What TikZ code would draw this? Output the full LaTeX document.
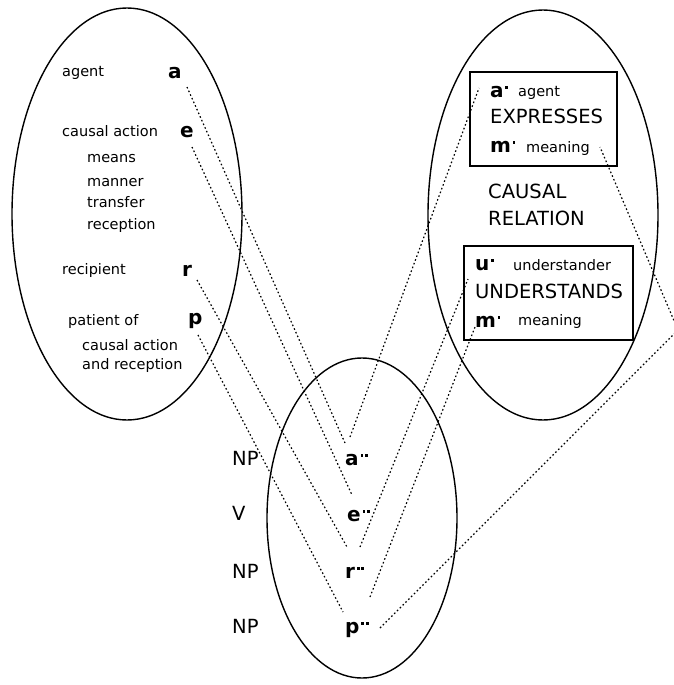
\documentclass[tikz,border=0pt]{standalone}
\usepackage{fontspec}
\setmainfont{DejaVu Sans}
\newcommand\pdot{\kern1.5pt\rule[8.5pt]{2.8pt}{2.8pt}}
\newcommand\ppdot{\kern1.8pt\rule[8.5pt]{2.8pt}{2.8pt}\kern1.8pt\rule[8.5pt]{2.8pt}{2.8pt}}
\tikzset{
  lbl/.style={font=\fontsize{14.5}{16}\selectfont, inner sep=0pt, anchor=base west},
  big/.style={font=\fontsize{19.5}{22}\selectfont, inner sep=0pt, anchor=base west},
  var/.style={font=\fontsize{20}{22}\selectfont\bfseries, inner sep=0pt, anchor=base west},
  link/.style={line width=1.2pt, dash pattern=on 1.6pt off 2.4pt},
  oval/.style={line width=1.4pt},
  frame/.style={line width=1.4pt}
}
\begin{document}
\begin{tikzpicture}[x=1pt,y=-1pt]
\useasboundingbox[fill=white] (0,0) rectangle (674,685);
% ellipses
\draw[oval] (127,214) ellipse [x radius=115pt, y radius=206pt];
\draw[oval] (543,215) ellipse [x radius=115pt, y radius=205pt];
\draw[oval] (362,518) ellipse [x radius=95pt, y radius=160pt];
% left ellipse texts
\node[lbl] (tagent) at (62,77) {agent};
\node[var] (va) at (168,78) {a};
\node[lbl] (tcausal) at (62,136) {causal action};
\node[var] (ve) at (180,137) {e};
\node[lbl] (tmeans) at (87,162) {means};
\node[lbl] (tmanner) at (87,186) {manner};
\node[lbl] (ttransfer) at (87,207) {transfer};
\node[lbl] (treception) at (87,229) {reception};
\node[lbl] (trecipient) at (62,274) {recipient};
\node[var] (vr) at (182,276) {r};
\node[lbl] (tpatient) at (68,325) {patient of};
\node[var] (vp) at (188,324) {p};
\node[lbl] (tcausaltwo) at (82,350) {causal action};
\node[lbl] (tandrec) at (82,369) {and reception};
% bottom ellipse texts
\node[big] (npone) at (232,465) {NP};
\node[var] (aa) at (345,465) {a\ppdot};
\node[big] (vone) at (232,520) {V};
\node[var] (ee) at (347,521) {e\ppdot};
\node[big] (nptwo) at (232,578) {NP};
\node[var] (rr) at (345,578) {r\ppdot};
\node[big] (npthree) at (232,633) {NP};
\node[var] (pp) at (345,633) {p\ppdot};
% right ellipse
\draw[frame] (470,72) rectangle (617,166);
\node[var] (aone) at (490,97) {a\pdot};
\node[lbl] (tagentone) at (518,96) {agent};
\node[big] (texp) at (490,123) {EXPRESSES};
\node[var] (mone) at (490,152) {m\pdot};
\node[lbl] (tmeanone) at (526,152) {meaning};
\node[big] (tcausalrel) at (488,198) {CAUSAL};
\node[big] (trel) at (488,225) {RELATION};
\draw[frame] (464,246) rectangle (633,340);
\node[var] (uone) at (475,270) {u\pdot};
\node[lbl] (tund) at (513,270) {understander};
\node[big] (tunds) at (475,298) {UNDERSTANDS};
\node[var] (mtwo) at (475,327) {m\pdot};
\node[lbl] (tmeantwo) at (518,325) {meaning};
% connector ends
\coordinate (a-o) at (187,87);   \coordinate (aa-i) at (345,443);
\coordinate (e-o) at (192,147);  \coordinate (ee-i) at (352,495);
\coordinate (r-o) at (197,280);  \coordinate (rr-i) at (347,547);
\coordinate (p-o) at (198,335);  \coordinate (pp-i) at (343,612);
\coordinate (aa-o) at (350,437); \coordinate (aone-i) at (479,88);
\coordinate (rr-o) at (360,547); \coordinate (uone-i) at (468,279);
\coordinate (pp-o) at (370,597); \coordinate (mtwo-i) at (475,327);
\coordinate (pp-x) at (380,628); \coordinate (corner) at (678,330);
\coordinate (mone-i) at (600,147);
% connectors
\draw[link] (a-o) -- (aa-i);
\draw[link] (e-o) -- (ee-i);
\draw[link] (r-o) -- (rr-i);
\draw[link] (p-o) -- (pp-i);
\draw[link] (aa-o) -- (aone-i);
\draw[link] (rr-o) -- (uone-i);
\draw[link] (pp-o) -- (mtwo-i);
\draw[link] (pp-x) -- (corner) -- (mone-i);
\end{tikzpicture}
\end{document}
